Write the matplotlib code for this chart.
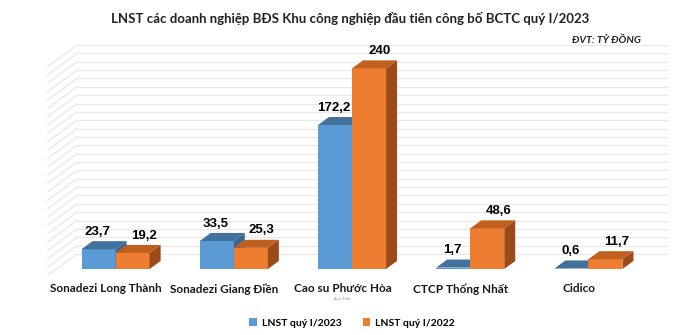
import matplotlib.pyplot as plt
from matplotlib.patches import Polygon, Patch

# data
categories = ["Sonadezi Long Thành", "Sonadezi Giang Điền", "Cao su Phước Hòa",
              "CTCP Thống Nhất", "Cidico"]
lnst_2023 = [23.7, 33.5, 172.2, 1.7, 0.6]
lnst_2022 = [19.2, 25.3, 240, 48.6, 11.7]
labels_2023 = ["23,7", "33,5", "172,2", "1,7", "0,6"]
labels_2022 = ["19,2", "25,3", "240", "48,6", "11,7"]
series_names = ["LNST quý I/2023", "LNST quý I/2022"]

# 3d look (oblique projection in data units)
dxd, dyd = 0.254, 26.3     # full floor depth
z0, z1 = 0.317, 0.683      # bar depth range
bw = 0.288                 # bar width
ymax, ystep = 250, 10

colors = {
    0: ("#5B9BD5", "#41719C", "#3A6690"),
    1: ("#ED7D31", "#C0601F", "#9C4A17"),
}


def proj(x, y, z):
    return (x + z * dxd, y + z * dyd)


def bar3d(ax, x0, x1, h, cols):
    front, top, side = cols
    ax.add_patch(Polygon([proj(x0, 0, z0), proj(x1, 0, z0), proj(x1, h, z0), proj(x0, h, z0)],
                         closed=True, fc=front, ec="none", zorder=3))
    ax.add_patch(Polygon([proj(x0, h, z0), proj(x1, h, z0), proj(x1, h, z1), proj(x0, h, z1)],
                         closed=True, fc=top, ec="none", zorder=3))
    ax.add_patch(Polygon([proj(x1, 0, z0), proj(x1, 0, z1), proj(x1, h, z1), proj(x1, h, z0)],
                         closed=True, fc=side, ec="none", zorder=3))


fig = plt.figure(figsize=(7, 3.35), dpi=100)
ax = fig.add_axes([0.0671, 0.1263, 0.895, 0.761])
ax.set_xlim(-0.5, 4.8)
ax.set_ylim(-20, 285)
ax.axis("off")

# walls
for v in range(0, ymax + 1, ystep):
    xa, ya = proj(-0.5, v, 1)
    xb, yb = proj(4.5, v, 1)
    ax.plot([xa, xb], [ya, yb], color="#E9E9E9", lw=0.9, zorder=1)
    xc, yc = proj(-0.5, v, 0)
    ax.plot([xc, xa], [yc, ya], color="#E9E9E9", lw=0.9, zorder=1)

# bars
for i in range(len(categories)):
    bar3d(ax, i - bw, i, lnst_2023[i], colors[0])
    bar3d(ax, i, i + bw, lnst_2022[i], colors[1])
    lx, ly = proj(i - bw / 2 - 0.1, lnst_2023[i], z1)
    ax.text(lx, ly + 4, labels_2023[i], ha="center", va="bottom", fontsize=9.5,
            fontweight="bold", family="Liberation Sans", zorder=5)
    lx, ly = proj(i + bw / 2, lnst_2022[i], z1)
    ax.text(lx, ly + 4, labels_2022[i], ha="center", va="bottom", fontsize=9.5,
            fontweight="bold", family="Liberation Sans", zorder=5)
    ax.text(i, -15.5, categories[i], ha="center", va="center", fontsize=8.5,
            fontweight="bold", family="Lato", color="#1a1a1a")

ax.text(2, -28, "Axis Title", ha="center", va="center", fontsize=2.5, color="#888888")

fig.text(0.5, 0.946, "LNST các doanh nghiệp BĐS Khu công nghiệp đầu tiên công bố BCTC quý I/2023",
         ha="center", va="center", fontsize=9.5, fontweight="bold", family="Lato", color="#222222")
fig.text(0.915, 0.881, "ĐVT: TỶ ĐỒNG", ha="right", va="center", fontsize=7.5,
         fontweight="bold", style="italic", family="Lato", color="#222222")

handles = [Patch(fc=colors[0][0], ec="none"), Patch(fc=colors[1][0], ec="none")]
fig.legend(handles, series_names, loc="center", bbox_to_anchor=(0.503, 0.036), ncol=2,
           frameon=False, handlelength=0.7, handleheight=0.7, handletextpad=0.5, columnspacing=2.0,
           prop={"family": "Lato", "weight": "bold", "size": 7.5})

fig.savefig("out.png", dpi=100)
